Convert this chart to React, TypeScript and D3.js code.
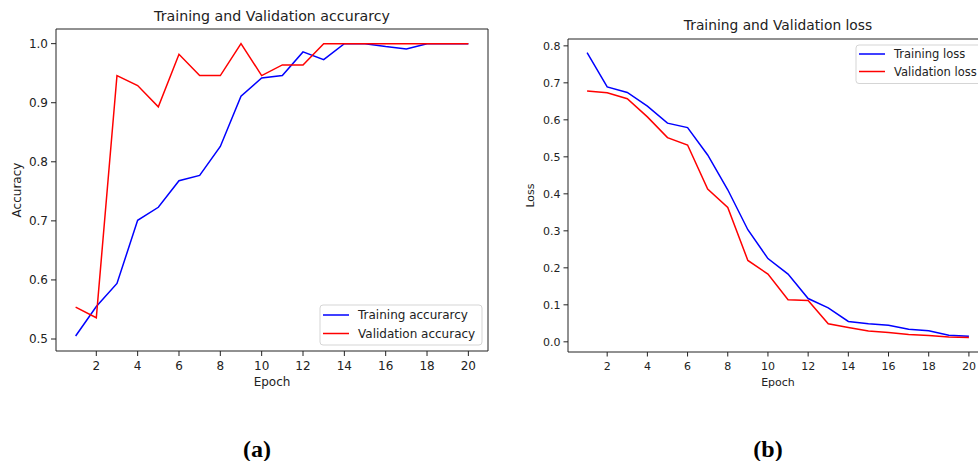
import * as d3 from "d3"

const epochs = d3.range(1, 21)

const trainAcc = [0.505, 0.555, 0.594, 0.701, 0.723, 0.768, 0.777, 0.826, 0.911, 0.942,
  0.946, 0.986, 0.973, 1.0, 1.0, 0.995, 0.991, 1.0, 1.0, 1.0]
const valAcc = [0.554, 0.536, 0.946, 0.929, 0.893, 0.982, 0.946, 0.946, 1.0, 0.946,
  0.964, 0.964, 1.0, 1.0, 1.0, 1.0, 1.0, 1.0, 1.0, 1.0]

const trainLoss = [0.782, 0.689, 0.674, 0.637, 0.591, 0.579, 0.505, 0.411, 0.303, 0.225,
  0.183, 0.117, 0.092, 0.055, 0.049, 0.045, 0.034, 0.030, 0.018, 0.015]
const valLoss = [0.678, 0.673, 0.657, 0.608, 0.552, 0.532, 0.413, 0.363, 0.220, 0.183,
  0.114, 0.112, 0.049, 0.039, 0.029, 0.025, 0.020, 0.017, 0.013, 0.012]

const xTicks = [2, 4, 6, 8, 10, 12, 14, 16, 18, 20]
const accTicks = [0.5, 0.6, 0.7, 0.8, 0.9, 1.0]
const lossTicks = [0.0, 0.1, 0.2, 0.3, 0.4, 0.5, 0.6, 0.7, 0.8]

const FONT = "DejaVu Sans, sans-serif"
const INK = "#222"

type PanelProps = {
  left: number; right: number; top: number; bottom: number
  yDomain: [number, number]
  yTicks: number[]
  train: number[]; val: number[]
  title: string; titleY: number; titleSize: number
  yLabel: string; yLabelX: number
  tickSize: number; tickLen: number
  names: [string, string]
  legend: { x: number; y: number; w: number; h: number; row1: number; row2: number; size: number }
}

function Panel(p: PanelProps) {
  const x = d3.scaleLinear().domain([0.05, 20.95]).range([p.left, p.right])
  const y = d3.scaleLinear().domain(p.yDomain).range([p.bottom, p.top])
  const line = (vals: number[]) =>
    d3.line<number>().x((_, i) => x(epochs[i])).y((d) => y(d))(vals) || ""
  const cx = (p.left + p.right) / 2
  const clipRight = Math.min(p.right, 978)
  const lg = p.legend
  return (
    <g>
      <path d={line(p.train)} fill="none" stroke="#0000ff" strokeWidth={1.5} />
      <path d={line(p.val)} fill="none" stroke="#ff0000" strokeWidth={1.5} />

      {/* spines */}
      <line x1={p.left} x2={p.left} y1={p.top} y2={p.bottom} stroke={INK} strokeWidth={1} />
      <line x1={p.left} x2={clipRight} y1={p.bottom} y2={p.bottom} stroke={INK} strokeWidth={1} />
      <line x1={p.left} x2={clipRight} y1={p.top} y2={p.top} stroke={INK} strokeWidth={1} />
      {p.right <= 978 && (
        <line x1={p.right} x2={p.right} y1={p.top} y2={p.bottom} stroke={INK} strokeWidth={1} />
      )}

      {xTicks.map((t) => (
        <g key={"x" + t}>
          <line x1={x(t)} x2={x(t)} y1={p.bottom} y2={p.bottom + p.tickLen} stroke={INK} />
          <text x={x(t)} y={p.bottom + p.tickLen + p.tickSize + 2} textAnchor="middle"
            fontSize={p.tickSize} fill={INK} fontFamily={FONT}>{t}</text>
        </g>
      ))}
      {p.yTicks.map((t) => (
        <g key={"y" + t}>
          <line x1={p.left - p.tickLen} x2={p.left} y1={y(t)} y2={y(t)} stroke={INK} />
          <text x={p.left - p.tickLen - 3} y={y(t)} dy="0.35em" textAnchor="end"
            fontSize={p.tickSize} fill={INK} fontFamily={FONT}>{t.toFixed(1)}</text>
        </g>
      ))}

      <text x={cx} y={p.titleY} textAnchor="middle" fontSize={p.titleSize} fill={INK}
        fontFamily={FONT}>{p.title}</text>
      <text x={cx} y={386} textAnchor="middle"
        fontSize={p.tickSize} fill={INK} fontFamily={FONT}>Epoch</text>
      <text transform={`translate(${p.yLabelX},${(p.top + p.bottom) / 2}) rotate(-90)`}
        textAnchor="middle" dy="0.35em" fontSize={p.tickSize} fill={INK}
        fontFamily={FONT}>{p.yLabel}</text>

      {/* legend */}
      <rect x={lg.x} y={lg.y} width={lg.w} height={lg.h} rx={3} fill="#fff" fillOpacity={0.8}
        stroke="#d5d5d5" strokeWidth={1} />
      <line x1={lg.x + 3} x2={lg.x + 29} y1={lg.row1} y2={lg.row1} stroke="#0000ff" strokeWidth={1.5} />
      <line x1={lg.x + 3} x2={lg.x + 29} y1={lg.row2} y2={lg.row2} stroke="#ff0000" strokeWidth={1.5} />
      <text x={lg.x + 38} y={lg.row1} dy="0.35em" fontSize={lg.size} fill={INK}
        fontFamily={FONT}>{p.names[0]}</text>
      <text x={lg.x + 38} y={lg.row2} dy="0.35em" fontSize={lg.size} fill={INK}
        fontFamily={FONT}>{p.names[1]}</text>
    </g>
  )
}

export default function App() {
  return (
    <svg width={978} height={461} style={{ position: "absolute", left: 0, top: 0, background: "#fff" }}>
      <Panel left={56} right={488} top={29} bottom={351}
        yDomain={[0.4797, 1.0248]} yTicks={accTicks}
        train={trainAcc} val={valAcc}
        title="Training and Validation accurarcy" titleY={21} titleSize={14.2}
        yLabel="Accuracy" yLabelX={17}
        tickSize={12} tickLen={5}
        names={["Training accurarcy", "Validation accuracy"]}
        legend={{ x: 320, y: 305, w: 162, h: 40, row1: 315, row2: 333.5, size: 12 }} />
      <Panel left={568} right={988} top={39} bottom={352}
        yDomain={[-0.0275, 0.8185]} yTicks={lossTicks}
        train={trainLoss} val={valLoss}
        title="Training and Validation loss" titleY={30} titleSize={13.8}
        yLabel="Loss" yLabelX={530}
        tickSize={11} tickLen={4.5}
        names={["Training loss", "Validation loss"]}
        legend={{ x: 856, y: 45, w: 130, h: 38.5, row1: 54, row2: 71.5, size: 11.5 }} />
      <text x={257} y={457} textAnchor="middle" fontFamily="Liberation Serif, serif"
        fontWeight="bold" fontSize={24} fill="#000">(a)</text>
      <text x={768} y={457} textAnchor="middle" fontFamily="Liberation Serif, serif"
        fontWeight="bold" fontSize={24} fill="#000">(b)</text>
    </svg>
  )
}
